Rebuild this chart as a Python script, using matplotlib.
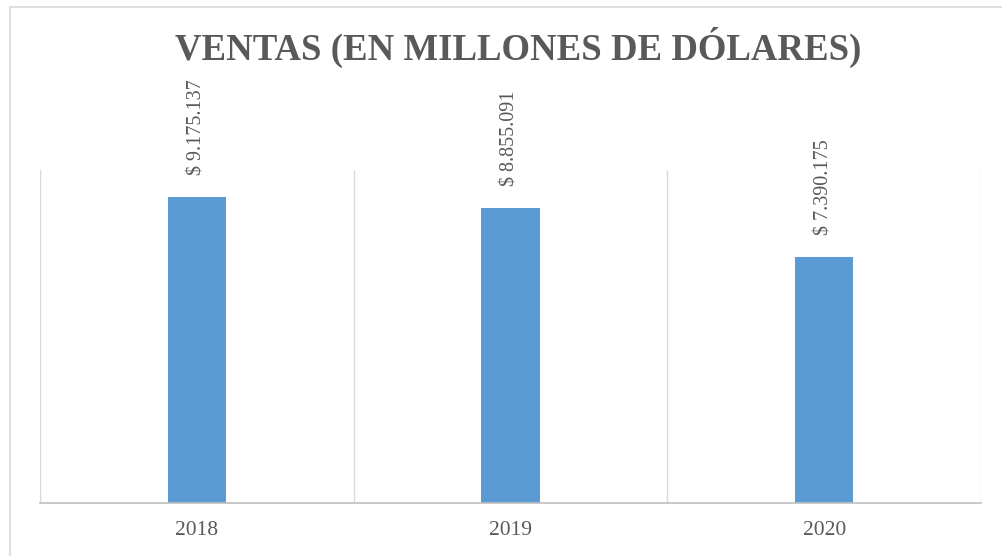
import matplotlib.pyplot as plt
from matplotlib.patches import Rectangle

years = ['2018', '2019', '2020']
ventas = [9175137, 8855091, 7390175]
etiquetas = ['$ 9.175.137', '$ 8.855.091', '$ 7.390.175']

plt.rcParams['font.family'] = ['Liberation Serif', 'DejaVu Serif']

fig = plt.figure(figsize=(10.03, 5.56), dpi=100)
fig.patches.append(Rectangle((10 / 1003, -0.1), 1.2, 1.1 - 7 / 556, transform=fig.transFigure,
                             fill=False, edgecolor='#D9D9D9', linewidth=1.2))

ax = fig.add_axes([40 / 1003, 1 - 503 / 556, 941 / 1003, 333 / 556])
x = list(range(len(years)))
ax.bar(x, ventas, width=0.185, color='#5B9BD5', zorder=2)

ax.set_xlim(-0.5, len(years) - 0.5)
ax.set_ylim(0, 10000000)
# lineas verticales entre categorias
for b in [i - 0.5 for i in range(len(years) + 1)]:
    ax.axvline(b, color='#D9D9D9', linewidth=1, zorder=1)

for s in ['top', 'left', 'right']:
    ax.spines[s].set_visible(False)
ax.spines['bottom'].set_color('#BFBFBF')
ax.spines['bottom'].set_linewidth(1.2)
ax.set_yticks([])
ax.set_xticks(x)
ax.set_xticklabels(years, fontsize=15.5, color='#595959')
ax.tick_params(axis='x', length=0, pad=13)

for xi, v, t in zip(x, ventas, etiquetas):
    ax.annotate(t, (xi, v), xytext=(0, 22), textcoords='offset pixels',
                rotation=90, ha='center', va='bottom', fontsize=14.5, color='#595959')

fig.text(0.517, 1 - 47 / 556, 'VENTAS (EN MILLONES DE DÓLARES)', ha='center', va='center',
         fontsize=26.5, fontweight='bold', color='#595959')

fig.savefig('out.png', dpi=100)
